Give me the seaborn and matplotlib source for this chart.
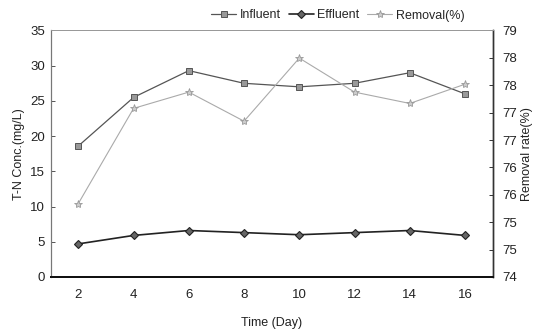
import numpy as np
import pandas as pd
import matplotlib
matplotlib.use("Agg")
import matplotlib.pyplot as plt
from matplotlib.ticker import FormatStrFormatter
import seaborn as sns

days = [2, 4, 6, 8, 10, 12, 14, 16]
influent = [18.6, 25.5, 29.3, 27.5, 27.0, 27.5, 29.0, 26.0]
effluent = [4.7, 5.9, 6.6, 6.3, 6.0, 6.3, 6.6, 5.9]
removal = [75.49, 77.42, 77.75, 77.16, 78.44, 77.75, 77.52, 77.91]

left_ticks = [0, 5, 10, 15, 20, 25, 30, 35]
right_ticks = list(np.linspace(74, 79, 10))

sns.set_style("white")
plt.rcParams['font.family'] = ['Liberation Sans', 'DejaVu Sans']
plt.rcParams['font.size'] = 9.5

df = pd.DataFrame({"day": days, "Influent": influent, "Effluent": effluent, "Removal": removal})

fig = plt.figure(figsize=(5.35, 3.32), dpi=100)
ax = fig.add_axes([0.0948, 0.1657, 0.826, 0.7425])
ax2 = ax.twinx()

sns.lineplot(data=df, x="day", y="Influent", ax=ax, color="#555555", lw=0.9,
             marker="s", markersize=4.5, markerfacecolor="#999999", markeredgecolor="#555555",
             markeredgewidth=0.7, label="Influent", legend=False)
sns.lineplot(data=df, x="day", y="Effluent", ax=ax, color="#222222", lw=1.2,
             marker="D", markersize=4, markerfacecolor="#666666", markeredgecolor="#222222",
             markeredgewidth=0.8, label="Effluent", legend=False)
sns.lineplot(data=df, x="day", y="Removal", ax=ax2, color="#aaaaaa", lw=0.8,
             marker="*", markersize=6, markerfacecolor="#cccccc", markeredgecolor="#999999",
             markeredgewidth=0.6, label="Removal(%)", legend=False)

ax.set_xlim(1, 17)
ax.set_ylim(0, 35)
ax2.set_ylim(74, 79)
ax.set_xticks(days)
ax.set_xticks(np.arange(3, 16, 2), minor=True)
ax.tick_params(axis='x', which='major', length=0, pad=8.5, labelsize=9.5, colors="#222222")
ax.tick_params(axis='x', which='minor', length=4, direction='in', width=0.8, color="#333333")
ax.set_yticks(left_ticks)
ax.tick_params(axis='y', length=3, direction='in', width=0.7, color="#555555", labelsize=9.5,
               colors="#222222", pad=4)
ax2.set_yticks(right_ticks)
ax2.yaxis.set_major_formatter(FormatStrFormatter('%.0f'))
ax2.tick_params(axis='y', length=3, direction='in', width=0.7, color="#333333", labelsize=9.5,
                colors="#222222", pad=7)

ax.set_xlabel("Time (Day)", fontsize=9, labelpad=12, color="#222222")
ax.set_ylabel("T-N Conc.(mg/L)", fontsize=9, labelpad=4, color="#222222")
ax2.set_ylabel("Removal rate(%)", fontsize=9, labelpad=3, color="#222222")

for a in (ax, ax2):
    a.spines['top'].set_color("#999999")
    a.spines['top'].set_linewidth(0.7)
    a.spines['top'].set_linestyle((0, (3, 1)))
    a.spines['left'].set_color("#777777")
    a.spines['left'].set_linewidth(0.8)
    a.spines['right'].set_color("#333333")
    a.spines['right'].set_linewidth(1.0)
    a.spines['bottom'].set_color("#111111")
    a.spines['bottom'].set_linewidth(1.4)

h1, l1 = ax.get_legend_handles_labels()
h2, l2 = ax2.get_legend_handles_labels()
fig.legend(h1 + h2, l1 + l2, loc='center', bbox_to_anchor=(338 / 535, 1 - 15.5 / 332),
           ncol=3, frameon=False, fontsize=9, handlelength=2.0, handletextpad=0.3,
           columnspacing=0.6, borderpad=0)

fig.savefig("out.png", dpi=100, facecolor="white")
